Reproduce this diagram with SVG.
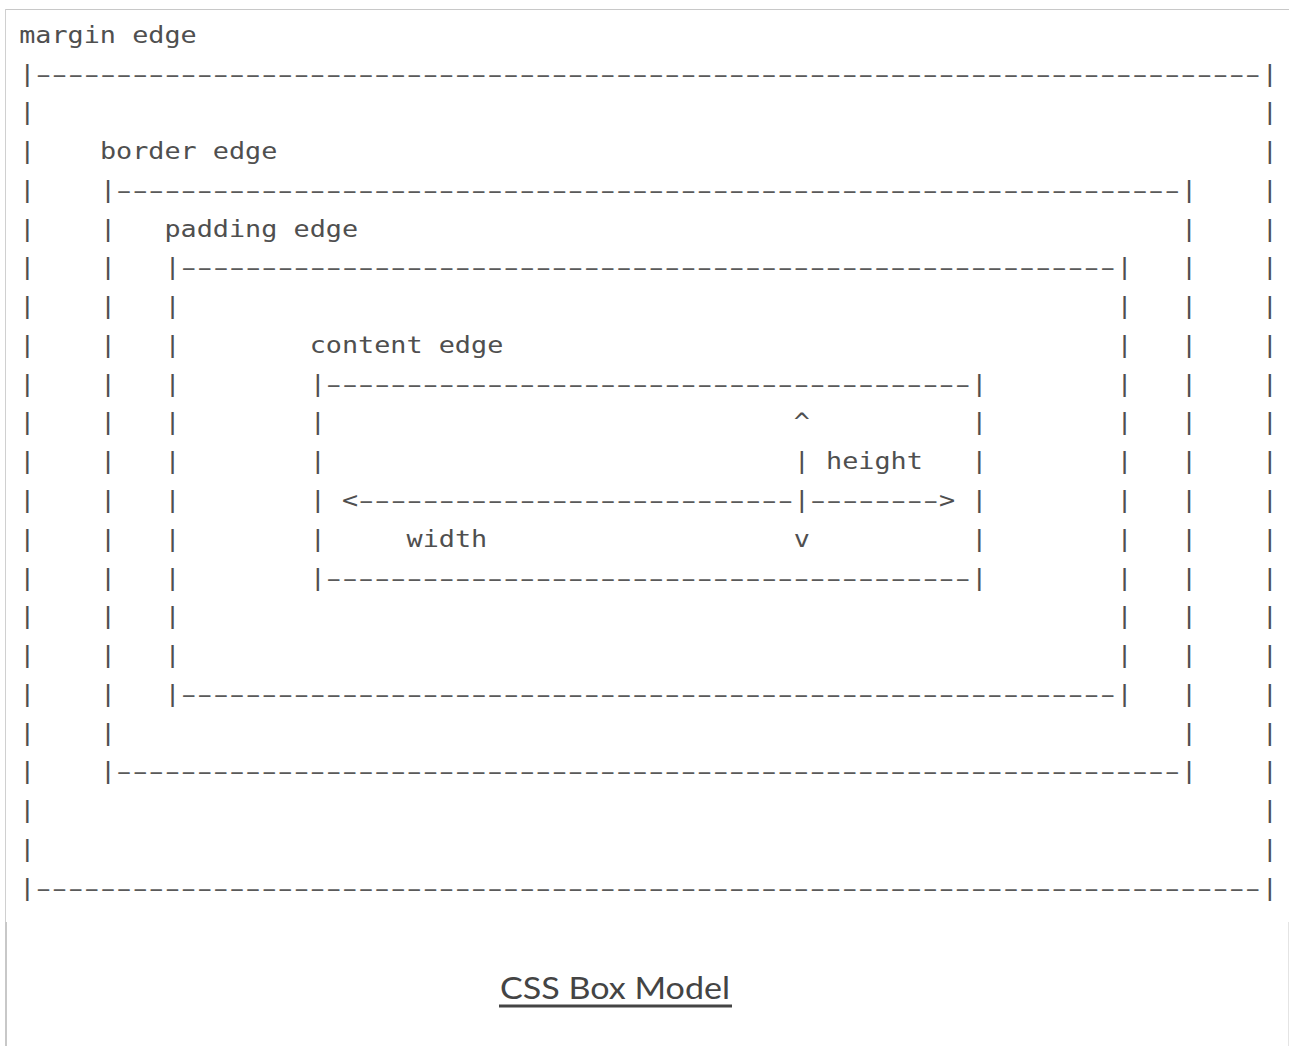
<svg xmlns="http://www.w3.org/2000/svg" width="1289" height="1046" viewBox="0 0 1289 1046">
<style>
.m{font-family:"DejaVu Sans Mono","Liberation Mono",monospace;font-size:23px;fill:#4f4f4f;white-space:pre}
.d{font-family:"DejaVu Sans Mono","Liberation Mono",monospace;font-size:23px;fill:#5a5a5a;white-space:pre;letter-spacing:-5.572px}
.cap{font-family:Lato,"Open Sans","Liberation Sans",sans-serif;font-size:31px;fill:#444}
</style>
<rect width="1289" height="1046" fill="#fff"/>
<g id="frame">
<rect x="5" y="9" width="1284" height="1" fill="#c8c8c8"/>
<rect x="5" y="9" width="1" height="913" fill="#d0d0d0"/>
<rect x="5" y="922" width="2" height="124" fill="#c8c8c8"/>
<rect x="1288" y="922" width="1" height="124" fill="#e4e4e4"/>
</g>
<g id="margin-box">
<g transform="translate(19.2,0) scale(1.1654,1)">
<text class="m" x="0" y="42.8">margin edge</text>
<text class="m" x="0 0 0 0 0 0 0 0 0 0 0 0 0 0 0 0 0 0 0 0 0 0" y="81.57 120.34 159.11 197.88 236.65 275.42 314.19 352.96 391.73 430.5 469.27 508.04 546.81 585.58 624.35 663.12 701.89 740.66 779.43 818.2 856.97 895.74">||||||||||||||||||||||</text>
<text class="m" x="1066.2 1066.2 1066.2 1066.2 1066.2 1066.2 1066.2 1066.2 1066.2 1066.2 1066.2 1066.2 1066.2 1066.2 1066.2 1066.2 1066.2 1066.2 1066.2 1066.2 1066.2 1066.2" y="81.57 120.34 159.11 197.88 236.65 275.42 314.19 352.96 391.73 430.5 469.27 508.04 546.81 585.58 624.35 663.12 701.89 740.66 779.43 818.2 856.97 895.74">||||||||||||||||||||||</text>
</g>
<g transform="scale(1.95,1)">
<text class="d" x="15.34" y="81.57">----------------------------------------------------------------------------</text>
<text class="d" x="15.34" y="895.74">----------------------------------------------------------------------------</text>
</g>
</g>
<g id="border-box">
<g transform="translate(19.2,0) scale(1.1654,1)">
<text class="m" x="69.24" y="159.11">border edge</text>
<text class="m" x="69.24 69.24 69.24 69.24 69.24 69.24 69.24 69.24 69.24 69.24 69.24 69.24 69.24 69.24 69.24 69.24" y="197.88 236.65 275.42 314.19 352.96 391.73 430.5 469.27 508.04 546.81 585.58 624.35 663.12 701.89 740.66 779.43">||||||||||||||||</text>
<text class="m" x="997 997 997 997 997 997 997 997 997 997 997 997 997 997 997 997" y="197.88 236.65 275.42 314.19 352.96 391.73 430.5 469.27 508.04 546.81 585.58 624.35 663.12 701.89 740.66 779.43">||||||||||||||||</text>
</g>
<g transform="scale(1.95,1)">
<text class="d" x="56.71" y="197.88">------------------------------------------------------------------</text>
<text class="d" x="56.71" y="779.43">------------------------------------------------------------------</text>
</g>
</g>
<g id="padding-box">
<g transform="translate(19.2,0) scale(1.1654,1)">
<text class="m" x="124.62" y="236.65">padding edge</text>
<text class="m" x="124.62 124.62 124.62 124.62 124.62 124.62 124.62 124.62 124.62 124.62 124.62 124.62" y="275.42 314.19 352.96 391.73 430.5 469.27 508.04 546.81 585.58 624.35 663.12 701.89">||||||||||||</text>
<text class="m" x="941.6 941.6 941.6 941.6 941.6 941.6 941.6 941.6 941.6 941.6 941.6 941.6" y="275.42 314.19 352.96 391.73 430.5 469.27 508.04 546.81 585.58 624.35 663.12 701.89">||||||||||||</text>
</g>
<g transform="scale(1.95,1)">
<text class="d" x="89.82" y="275.42">----------------------------------------------------------</text>
<text class="d" x="89.82" y="701.89">----------------------------------------------------------</text>
</g>
</g>
<g id="content-box">
<g transform="translate(19.2,0) scale(1.1654,1)">
<text class="m" x="249.25" y="352.96">content edge</text>
<text class="m" x="249.25 249.25 249.25 249.25 249.25 249.25" y="391.73 430.5 469.27 508.04 546.81 585.58">||||||</text>
<text class="m" x="816.97 816.97 816.97 816.97 816.97 816.97" y="391.73 430.5 469.27 508.04 546.81 585.58">||||||</text>
</g>
<g transform="scale(1.95,1)">
<text class="d" x="164.29" y="391.73">----------------------------------------</text>
<text class="d" x="164.29" y="585.58">----------------------------------------</text>
</g>
</g>
<g id="connectors">
<g transform="translate(19.2,0) scale(1.1654,1)">
<text class="m" x="664.66" y="430.5">^</text>
<text class="m" x="664.66" y="469.27">| height</text>
<text class="m" x="276.94" y="508.04">&lt;</text>
<text class="m" x="664.66" y="508.04">|</text>
<text class="m" x="789.28" y="508.04">&gt;</text>
<text class="m" x="332.33" y="546.81">width</text>
<text class="m" x="664.66" y="546.81">v</text>
</g>
<g transform="scale(1.95,1)">
<text class="d" x="180.85" y="508.04">---------------------------</text>
<text class="d" x="412.55" y="508.04">--------</text>
</g>
</g>
<g id="caption">
<text class="cap" x="500" y="998.5" textLength="230" lengthAdjust="spacingAndGlyphs">CSS Box Model</text>
<rect x="499" y="1004.5" width="233" height="3" fill="#444"/>
</g>
</svg>
